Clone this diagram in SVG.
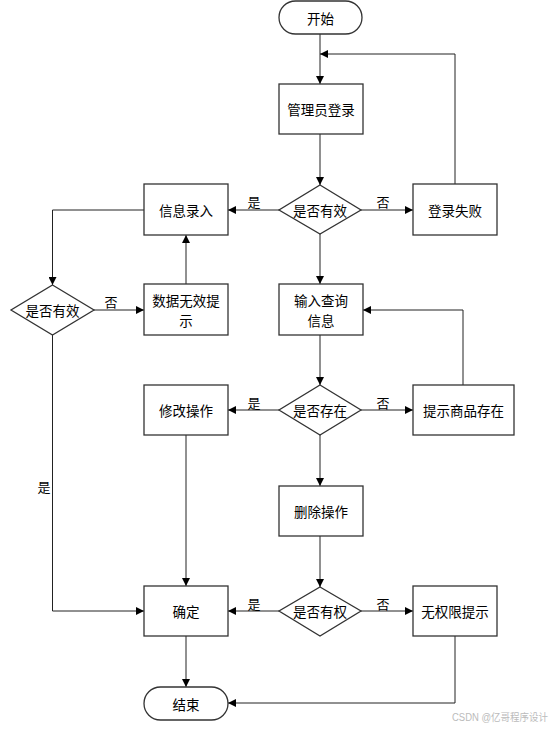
<svg xmlns="http://www.w3.org/2000/svg" width="556" height="729" viewBox="0 0 556 729">
<defs>
<marker id="arr" viewBox="0 0 10 10" refX="10" refY="5" markerWidth="8" markerHeight="8" markerUnits="userSpaceOnUse" orient="auto">
<path d="M0,0 L10,5 L0,10 z" fill="#000"/>
</marker>
<style>
.n{fill:#fff;stroke:#333;stroke-width:1.3}
.t{font-family:"Noto Sans CJK SC","Liberation Sans",sans-serif;font-size:13.5px;fill:#000;text-anchor:middle;dominant-baseline:central}
.l{font-family:"Noto Sans CJK SC","Liberation Sans",sans-serif;font-size:13px;fill:#000;text-anchor:middle;dominant-baseline:central}
.c{fill:none;stroke:#222;stroke-width:1}
.w{font-family:"Liberation Sans","Noto Sans CJK SC",sans-serif;font-size:10px;fill:#bbb}
</style>
</defs>
<rect width="556" height="729" fill="#fff"/>
<g id="connectors">
<path class="c" d="M320,34 V84" marker-end="url(#arr)"/>
<path class="c" d="M455,184 V54 H320" marker-end="url(#arr)"/>
<path class="c" d="M320,134 V185" marker-end="url(#arr)"/>
<path class="c" d="M279,210 H228" marker-end="url(#arr)"/>
<path class="c" d="M361,210 H413" marker-end="url(#arr)"/>
<path class="c" d="M320,234 V284" marker-end="url(#arr)"/>
<path class="c" d="M144,210 H52.5 V285" marker-end="url(#arr)"/>
<path class="c" d="M94,310 H144" marker-end="url(#arr)"/>
<path class="c" d="M186,284 V235" marker-end="url(#arr)"/>
<path class="c" d="M320,335 V385" marker-end="url(#arr)"/>
<path class="c" d="M279,410 H228" marker-end="url(#arr)"/>
<path class="c" d="M361,410 H413" marker-end="url(#arr)"/>
<path class="c" d="M463,385 V310 H363" marker-end="url(#arr)"/>
<path class="c" d="M320,435 V486" marker-end="url(#arr)"/>
<path class="c" d="M320,536 V587" marker-end="url(#arr)"/>
<path class="c" d="M279,611 H228" marker-end="url(#arr)"/>
<path class="c" d="M361,611 H413" marker-end="url(#arr)"/>
<path class="c" d="M52.5,335 V611 H144" marker-end="url(#arr)"/>
<path class="c" d="M186,435 V586" marker-end="url(#arr)"/>
<path class="c" d="M186,636 V687" marker-end="url(#arr)"/>
<path class="c" d="M455,636 V703 H228" marker-end="url(#arr)"/>
<text class="l" x="254" y="201">是</text>
<text class="l" x="383" y="201">否</text>
<text class="l" x="111" y="301">否</text>
<text class="l" x="254" y="402">是</text>
<text class="l" x="383" y="402">否</text>
<text class="l" x="44" y="486">是</text>
<text class="l" x="254" y="603">是</text>
<text class="l" x="383" y="603">否</text>
</g>
<g id="start"><rect class="n" x="279" y="1" width="83" height="33" rx="16.5"/><text class="t" x="320.5" y="17.5">开始</text></g>
<g id="login"><rect class="n" x="279" y="84" width="84" height="50"/><text class="t" x="321" y="109">管理员登录</text></g>
<g id="valid1"><path class="n" d="M320,185 L361,210 L320,234 L279,210 Z"/><text class="t" x="320" y="210">是否有效</text></g>
<g id="info"><rect class="n" x="144" y="184" width="84" height="51"/><text class="t" x="186" y="210">信息录入</text></g>
<g id="fail"><rect class="n" x="413" y="184" width="84" height="51"/><text class="t" x="455" y="210">登录失败</text></g>
<g id="valid2"><path class="n" d="M52.5,285 L94,310 L52.5,335 L11,310 Z"/><text class="t" x="52.5" y="310">是否有效</text></g>
<g id="invalid"><rect class="n" x="144" y="284" width="84" height="51"/><text class="t" x="186" y="300">数据无效提</text><text class="t" x="186" y="320">示</text></g>
<g id="query"><rect class="n" x="279" y="284" width="84" height="51"/><text class="t" x="321" y="300">输入查询</text><text class="t" x="321" y="320">信息</text></g>
<g id="exists"><path class="n" d="M320,385 L361,410 L320,435 L279,410 Z"/><text class="t" x="320" y="410">是否存在</text></g>
<g id="modify"><rect class="n" x="144" y="385" width="84" height="50"/><text class="t" x="186" y="410">修改操作</text></g>
<g id="exists-tip"><rect class="n" x="413" y="385" width="101" height="50"/><text class="t" x="463.5" y="410">提示商品存在</text></g>
<g id="delete"><rect class="n" x="279" y="486" width="84" height="50"/><text class="t" x="321" y="511">删除操作</text></g>
<g id="perm"><path class="n" d="M320,587 L361,611 L320,636 L279,611 Z"/><text class="t" x="320" y="611">是否有权</text></g>
<g id="confirm"><rect class="n" x="144" y="586" width="84" height="50"/><text class="t" x="186" y="611">确定</text></g>
<g id="noperm"><rect class="n" x="413" y="586" width="84" height="50"/><text class="t" x="455" y="611">无权限提示</text></g>
<g id="end"><rect class="n" x="144" y="687" width="84" height="33" rx="16.5"/><text class="t" x="186" y="703.5">结束</text></g>
<text class="w" x="452" y="721" textLength="96" lengthAdjust="spacingAndGlyphs">CSDN @亿哥程序设计</text>
</svg>
